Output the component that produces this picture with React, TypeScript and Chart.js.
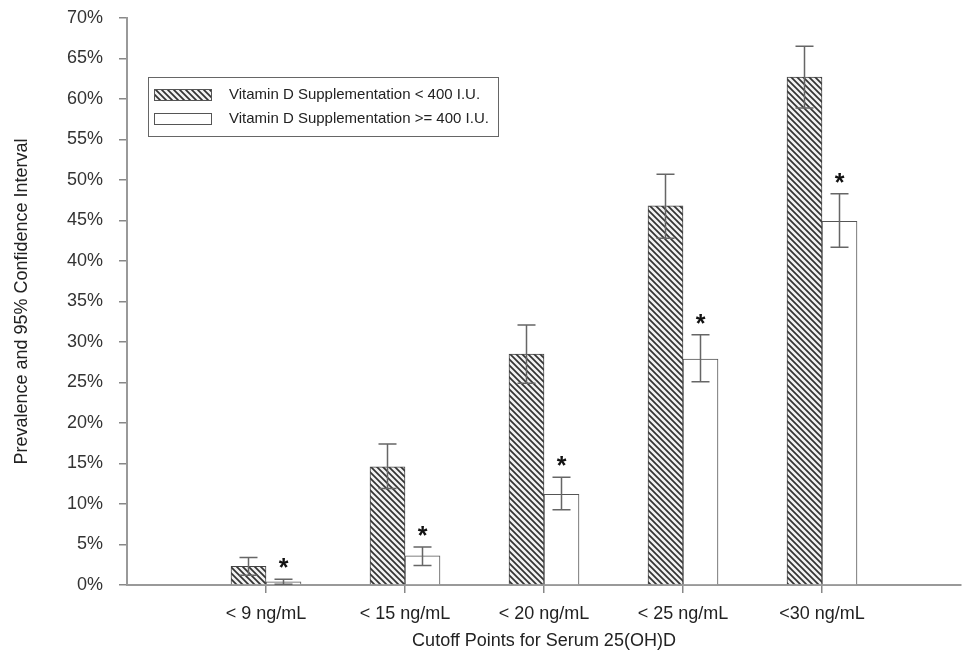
import React, { useEffect, useRef } from "react";
import { Chart, registerables } from "chart.js";

Chart.register(...registerables);

const categories = ["< 9 ng/mL", "< 15 ng/mL", "< 20 ng/mL", "< 25 ng/mL", "<30 ng/mL"];
const seriesLabels = ["Vitamin D Supplementation < 400 I.U.", "Vitamin D Supplementation >= 400 I.U."];
const lowSupp = [2.3, 14.6, 28.5, 46.8, 62.7];
const lowSuppUpper = [3.4, 17.4, 32.1, 50.7, 66.5];
const lowSuppLower = [1.2, 11.9, 24.9, 42.8, 58.9];
const highSupp = [0.4, 3.6, 11.2, 27.9, 44.9];
const highSuppUpper = [0.7, 4.7, 13.3, 30.9, 48.3];
const highSuppLower = [0.1, 2.4, 9.3, 25.1, 41.7];
const significant = [true, true, true, true, true];
const yTicks = [0, 5, 10, 15, 20, 25, 30, 35, 40, 45, 50, 55, 60, 65, 70];

const FONT = "'Liberation Sans', Arial, sans-serif";

function makeHatch(): CanvasPattern | string {
  const s = 6;
  const c = document.createElement("canvas");
  c.width = s;
  c.height = s;
  const g = c.getContext("2d");
  if (!g) return "#999";
  g.fillStyle = "#f2f2f2";
  g.fillRect(0, 0, s, s);
  g.strokeStyle = "#333";
  g.lineWidth = 1.7;
  g.beginPath();
  g.moveTo(-1, -1);
  g.lineTo(s + 1, s + 1);
  g.moveTo(-2, s - 2);
  g.lineTo(2, s + 2);
  g.moveTo(s - 2, -2);
  g.lineTo(s + 2, 2);
  g.stroke();
  const p = g.createPattern(c, "repeat");
  return p || "#999";
}

export default function App() {
  const ref = useRef<HTMLCanvasElement | null>(null);

  useEffect(() => {
    if (!ref.current) return;
    Chart.defaults.font.family = FONT;
    const hatch = makeHatch();
    const labels = ["", ...categories, ""];
    const pad = (a: number[]) => [null, ...a, null];

    const errorBars = {
      id: "errorBars",
      afterDatasetsDraw(chart: any) {
        const ctx = chart.ctx;
        const y = chart.scales.y;
        const sets = [
          { upper: lowSuppUpper, lower: lowSuppLower },
          { upper: highSuppUpper, lower: highSuppLower },
        ];
        ctx.save();
        ctx.strokeStyle = "#666";
        ctx.lineWidth = 1.5;
        sets.forEach((set, di) => {
          const meta = chart.getDatasetMeta(di);
          set.upper.forEach((u, j) => {
            const el = meta.data[j + 1];
            if (!el) return;
            const x = el.x;
            const yu = y.getPixelForValue(u);
            const yl = y.getPixelForValue(set.lower[j]);
            ctx.beginPath();
            ctx.moveTo(x, yu);
            ctx.lineTo(x, yl);
            ctx.moveTo(x - 9, yu);
            ctx.lineTo(x + 9, yu);
            ctx.moveTo(x - 9, yl);
            ctx.lineTo(x + 9, yl);
            ctx.stroke();
          });
        });
        const meta2 = chart.getDatasetMeta(1);
        ctx.fillStyle = "#111";
        ctx.font = "bold 25px " + FONT;
        ctx.textAlign = "center";
        ctx.textBaseline = "middle";
        significant.forEach((s, j) => {
          if (!s) return;
          const el = meta2.data[j + 1];
          const yu = y.getPixelForValue(highSuppUpper[j]);
          ctx.fillText("*", el.x, yu - 10);
        });
        ctx.restore();
      },
    };

    const legendBox = {
      id: "legendBox",
      afterDraw(chart: any) {
        const ctx = chart.ctx;
        const a = chart.chartArea;
        const bx = a.left + 21;
        const by = a.top + 59;
        const bw = 350;
        const bh = 59;
        ctx.save();
        ctx.fillStyle = "#fff";
        ctx.fillRect(bx, by, bw, bh);
        ctx.strokeStyle = "#666";
        ctx.lineWidth = 1;
        ctx.strokeRect(bx + 0.5, by + 0.5, bw, bh);
        ctx.font = "15px " + FONT;
        ctx.textBaseline = "middle";
        ctx.textAlign = "left";
        chart.data.datasets.forEach((ds: any, i: number) => {
          const sy = by + 12 + i * 24;
          ctx.fillStyle = ds.backgroundColor;
          ctx.fillRect(bx + 6, sy, 57, 11);
          ctx.strokeStyle = "#555";
          ctx.strokeRect(bx + 6.5, sy + 0.5, 57, 11);
          ctx.fillStyle = "#222";
          ctx.fillText(ds.label, bx + 81, sy + 6);
        });
        ctx.restore();
      },
    };

    const chart = new Chart(ref.current, {
      type: "bar",
      data: {
        labels,
        datasets: [
          {
            label: seriesLabels[0],
            data: pad(lowSupp) as any,
            backgroundColor: hatch as any,
            borderColor: "#444",
            borderWidth: 1,
            barThickness: 35,
          },
          {
            label: seriesLabels[1],
            data: pad(highSupp) as any,
            backgroundColor: "#ffffff",
            borderColor: "#555",
            borderWidth: 1,
            barThickness: 35,
          },
        ],
      },
      options: {
        animation: false,
        responsive: false,
        maintainAspectRatio: false,
        layout: { padding: { top: 18, right: 2, left: 0, bottom: 0 } },
        plugins: { legend: { display: false }, tooltip: { enabled: false } },
        scales: {
          x: {
            type: "category",
            offset: false,
            afterFit(scale: any) {
              scale.height = 73;
              scale.paddingLeft = 0;
              scale.paddingRight = 0;
            },
            grid: {
              offset: false,
              drawOnChartArea: false,
              drawTicks: true,
              tickLength: 8,
              color: (c: any) => (c.index === 0 || c.index === labels.length - 1 ? "rgba(0,0,0,0)" : "#888"),
              lineWidth: 1.5,
            },
            border: { display: true, color: "#999", width: 2 },
            ticks: {
              autoSkip: false,
              maxRotation: 0,
              color: "#222",
              font: { size: 18 },
              padding: 10,
            },
            title: {
              display: true,
              text: "Cutoff Points for Serum 25(OH)D",
              color: "#222",
              font: { size: 18 },
              padding: { top: 0, bottom: 6 },
            },
          },
          y: {
            min: 0,
            max: 70,
            afterFit(scale: any) {
              scale.width = 127;
              scale.paddingTop = 0;
              scale.paddingBottom = 0;
            },
            afterBuildTicks(scale: any) {
              scale.ticks = yTicks.map((v) => ({ value: v }));
            },
            grid: {
              drawOnChartArea: false,
              drawTicks: true,
              tickLength: 8,
              color: "#888",
              lineWidth: 1.5,
            },
            border: { display: true, color: "#999", width: 2 },
            ticks: {
              color: "#333",
              font: { size: 18 },
              padding: 16,
              callback: (v: any) => v + "%",
            },
            title: {
              display: true,
              text: "Prevalence and 95% Confidence Interval",
              color: "#222",
              font: { size: 18 },
              padding: { top: 11, bottom: 0 },
            },
          },
        },
      },
      plugins: [errorBars, legendBox],
    } as any);

    return () => chart.destroy();
  }, []);

  return (
    <div style={{ position: "fixed", left: 0, top: 0, width: 963, height: 658, background: "#fff" }}>
      <canvas ref={ref} width={963} height={658} style={{ width: 963, height: 658 }} />
    </div>
  );
}
